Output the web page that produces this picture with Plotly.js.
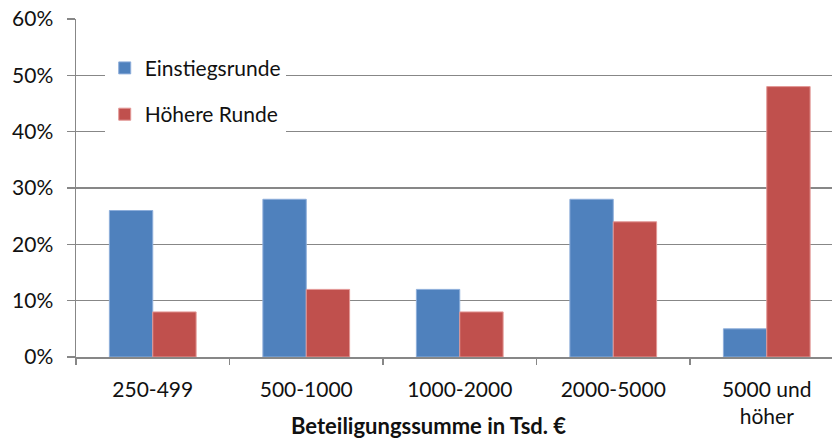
<!DOCTYPE html>
<html>
<head>
<meta charset="utf-8">
<script src="https://cdn.plot.ly/plotly-3.0.1.min.js"></script>
<style>html,body{margin:0;padding:0;background:#fff;}#chart{width:832px;height:441px;}</style>
</head>
<body>
<div id="chart"></div>
<script>
var categories = ["250-499", "500-1000", "1000-2000", "2000-5000", "5000 und<br>höher"];
var einstiegsrunde = [26, 28, 12, 28, 5];
var hoehereRunde = [8, 12, 8, 24, 48];
var seriesNames = ["Einstiegsrunde", "Höhere Runde"];
var yTicks = [0, 10, 20, 30, 40, 50, 60];
var xTitle = "Beteiligungssumme in Tsd. €";

var fontFam = "Lato, 'Open Sans', sans-serif";
var gridCol = "#878787";
var textCol = "#111111";

var traces = [
  {type: "bar", name: seriesNames[0], x: categories, y: einstiegsrunde,
   legendgroup: "a",
   marker: {color: "#4F81BD", line: {color: "#8DAEDA", width: 1}}},
  {type: "bar", name: seriesNames[1], x: categories, y: hoehereRunde,
   legendgroup: "b",
   marker: {color: "#C0504D", line: {color: "#E39896", width: 1}}}
];

var layout = {
  width: 832, height: 441,
  margin: {l: 76, r: 0, t: 19, b: 84, pad: 0},
  paper_bgcolor: "#fff", plot_bgcolor: "#fff",
  font: {family: fontFam, size: 21, color: textCol},
  barmode: "group",
  bargap: 0.435,
  bargroupgap: 0,
  showlegend: true,
  legend: {
    x: 0.038, y: 0.915, xanchor: "left", yanchor: "top",
    bgcolor: "#ffffff", borderwidth: 0,
    font: {family: fontFam, size: 21, color: textCol},
    traceorder: "grouped", tracegroupgap: 16,
    itemclick: false
  },
  xaxis: {
    type: "category",
    range: [-0.5, 4.425],
    showline: true, linecolor: gridCol, linewidth: 1.5,
    ticks: "outside", tickson: "boundaries", ticklen: 6, tickcolor: gridCol, tickwidth: 1.3,
    showgrid: false, zeroline: false,
    ticklabelstandoff: 13,
    tickfont: {family: fontFam, size: 21, color: textCol},
    fixedrange: true
  },
  yaxis: {
    range: [0, 60],
    tickvals: yTicks,
    ticktext: yTicks.map(function(v){return v + "%";}),
    showline: true, linecolor: gridCol, linewidth: 1.5,
    ticks: "outside", ticklen: 8, tickcolor: gridCol, tickwidth: 1.3,
    showgrid: true, gridcolor: gridCol, gridwidth: 1.3,
    zeroline: false,
    ticklabelstandoff: 9,
    tickfont: {family: fontFam, size: 21, color: textCol},
    fixedrange: true
  },
  annotations: [{
    text: "<b>" + xTitle + "</b>",
    xref: "paper", yref: "paper",
    x: 0.466, y: -0.203, xanchor: "center", yanchor: "middle",
    showarrow: false,
    font: {family: fontFam, size: 22, color: textCol}
  }]
};

Plotly.newPlot("chart", traces, layout, {displayModeBar: false, staticPlot: true});
</script>
</body>
</html>
